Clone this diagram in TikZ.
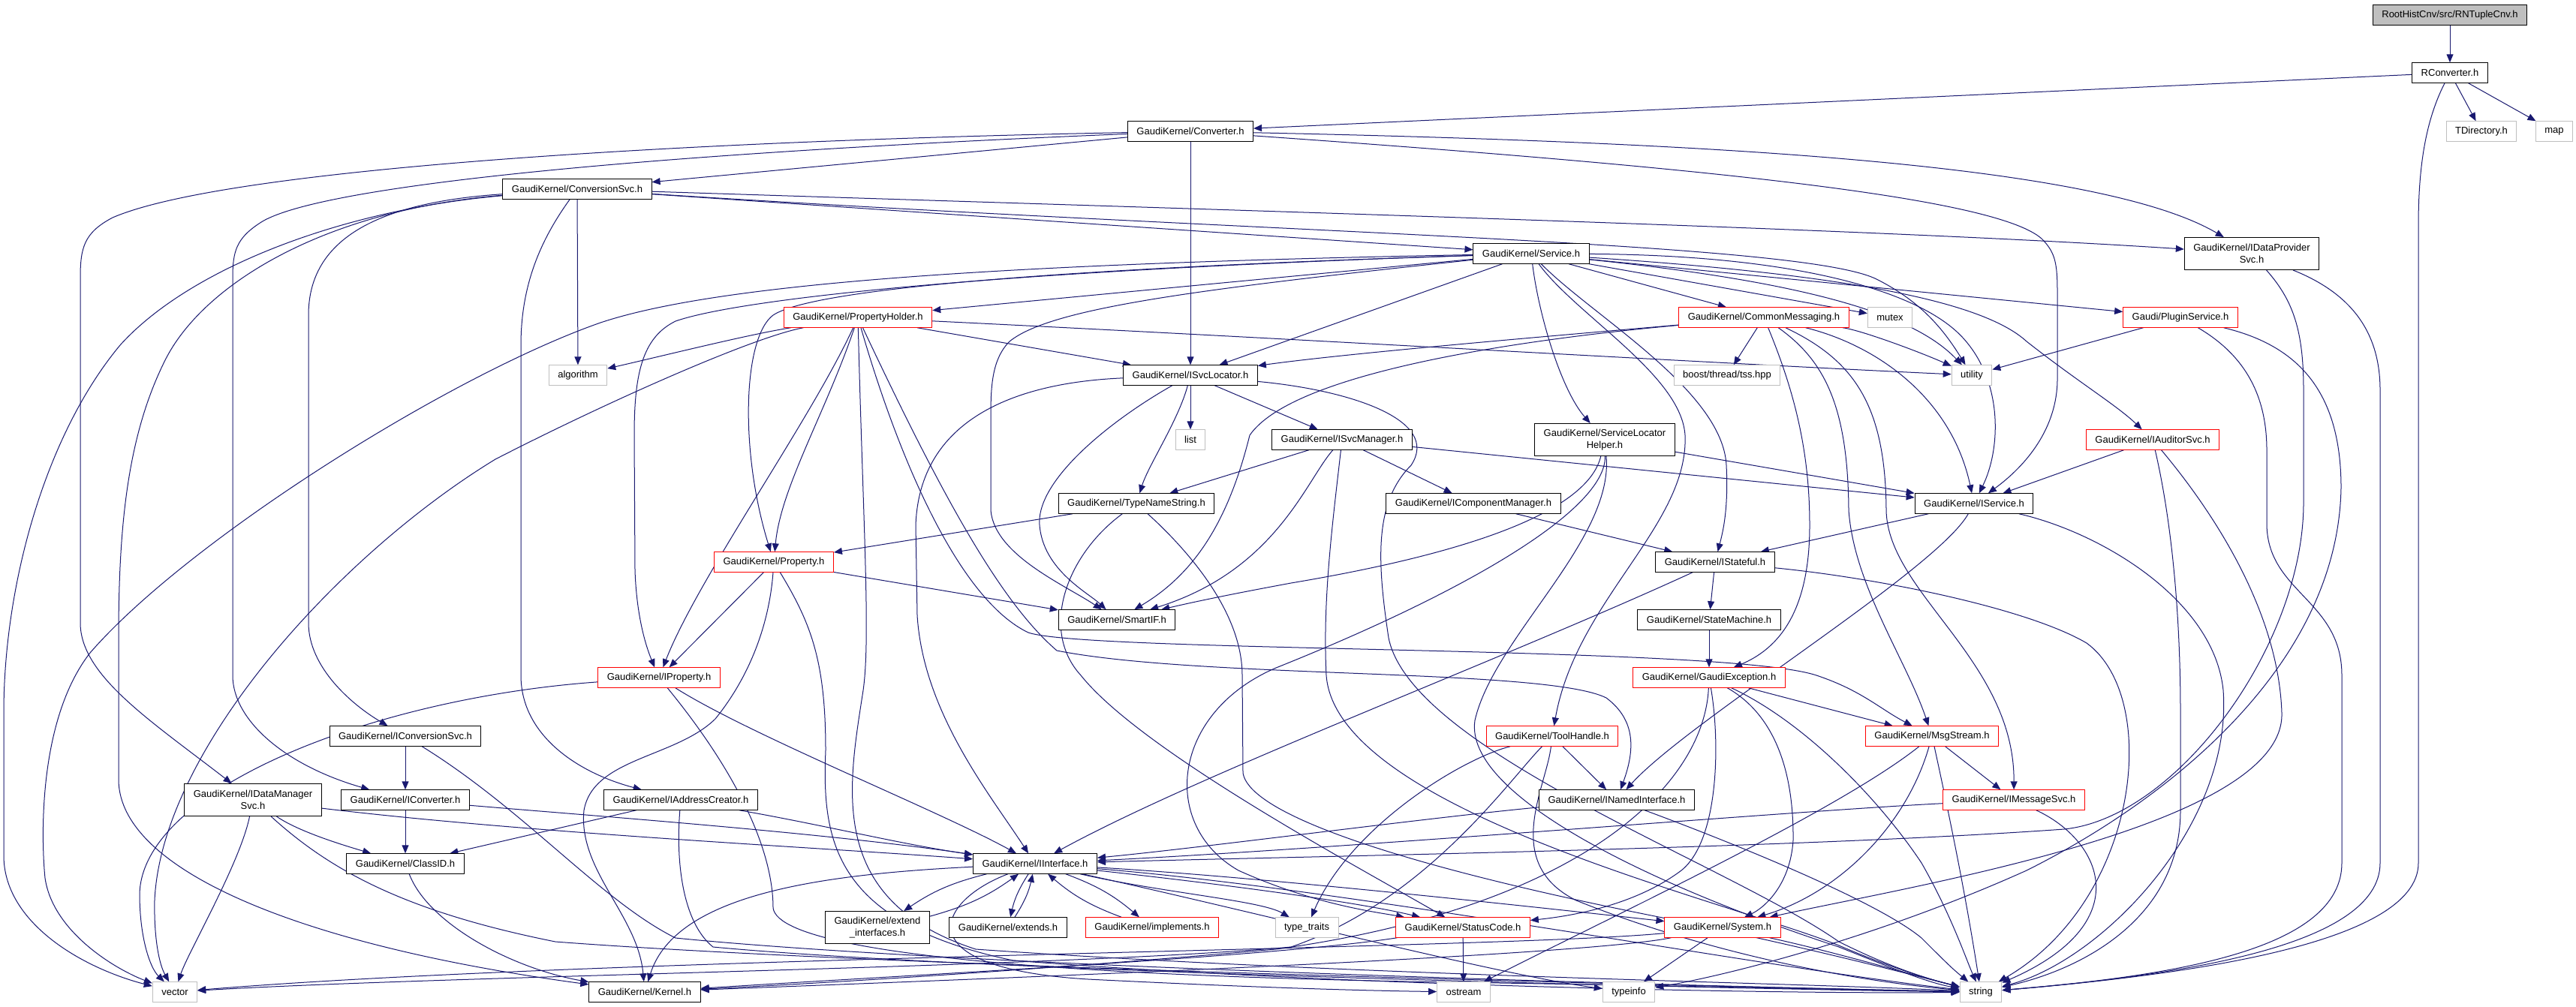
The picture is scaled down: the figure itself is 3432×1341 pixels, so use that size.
\documentclass[tikz,border=0pt]{standalone}
\usepackage{fontspec}
\setmainfont{Liberation Sans}
\usetikzlibrary{arrows.meta}
\definecolor{edgeblue}{RGB}{25,25,112}
\definecolor{sysgray}{RGB}{191,191,191}
\pgfdeclarelayer{bg}
\pgfsetlayers{bg,main}
\begin{document}
\begin{tikzpicture}[x=0.5pt,y=-0.5pt,
  hdr/.style={draw=black,line width=0.5pt,fill=white,inner xsep=6pt,inner ysep=0pt,
    minimum height=13.25pt,font=\fontsize{6.5pt}{8pt}\selectfont,align=center},
  trunc/.style={hdr,draw=red},
  sys/.style={hdr,draw=sysgray},
  twoline/.style={minimum height=21.5pt},
  inc/.style={draw=edgeblue,line width=0.5pt,-{Triangle[length=5.5pt,width=4.5pt]}}]
\useasboundingbox (0,0) rectangle (3432,1341);

\node[hdr,fill=sysgray] (root) at (3264,20) {RootHistCnv/src/RNTupleCnv.h};
\node[hdr] (rconv) at (3264,97) {RConverter.h};
\node[sys] (tdir) at (3306,175) {TDirectory.h};
\node[sys] (map) at (3403,175) {map};
\node[hdr] (conv) at (1586,175) {GaudiKernel/Converter.h};
\node[hdr] (convsvc) at (769,252) {GaudiKernel/ConversionSvc.h};
\node[hdr,twoline] (idps) at (3000,338) {GaudiKernel/IDataProvider\\Svc.h};
\node[hdr] (service) at (2040,338) {GaudiKernel/Service.h};
\node[trunc] (propholder) at (1143,423) {GaudiKernel/PropertyHolder.h};
\node[trunc] (commsg) at (2350,423) {GaudiKernel/CommonMessaging.h};
\node[sys] (mutex) at (2518,423) {mutex};
\node[trunc] (plugin) at (2905,423) {Gaudi/PluginService.h};
\node[sys] (algorithm) at (770,500) {algorithm};
\node[hdr] (isvcloc) at (1586,500) {GaudiKernel/ISvcLocator.h};
\node[sys] (tss) at (2301,500) {boost/thread/tss.hpp};
\node[sys] (utility) at (2627,500) {utility};
\node[sys] (list) at (1586,586) {list};
\node[hdr] (isvcmgr) at (1788,586) {GaudiKernel/ISvcManager.h};
\node[hdr,twoline] (slh) at (2138,586) {GaudiKernel/ServiceLocator\\Helper.h};
\node[trunc] (iauditor) at (2868,586) {GaudiKernel/IAuditorSvc.h};
\node[hdr] (typename) at (1514,671) {GaudiKernel/TypeNameString.h};
\node[hdr] (icompmgr) at (1963,671) {GaudiKernel/IComponentManager.h};
\node[hdr] (iservice) at (2630,671) {GaudiKernel/IService.h};
\node[trunc] (property) at (1031,749) {GaudiKernel/Property.h};
\node[hdr] (istateful) at (2285,749) {GaudiKernel/IStateful.h};
\node[hdr] (smartif) at (1488,826) {GaudiKernel/SmartIF.h};
\node[hdr] (statemachine) at (2277,826) {GaudiKernel/StateMachine.h};
\node[trunc] (iproperty) at (878,903) {GaudiKernel/IProperty.h};
\node[trunc] (gexc) at (2277,903) {GaudiKernel/GaudiException.h};
\node[hdr] (iconvsvc) at (540,981) {GaudiKernel/IConversionSvc.h};
\node[trunc] (toolhandle) at (2068,981) {GaudiKernel/ToolHandle.h};
\node[trunc] (msgstream) at (2574,981) {GaudiKernel/MsgStream.h};
\node[hdr,twoline] (idms) at (337,1066) {GaudiKernel/IDataManager\\Svc.h};
\node[hdr] (iconverter) at (540,1066) {GaudiKernel/IConverter.h};
\node[hdr] (iaddr) at (907,1066) {GaudiKernel/IAddressCreator.h};
\node[hdr] (inamed) at (2154,1066) {GaudiKernel/INamedInterface.h};
\node[trunc] (imsgsvc) at (2683,1066) {GaudiKernel/IMessageSvc.h};
\node[hdr] (classid) at (540,1151) {GaudiKernel/ClassID.h};
\node[hdr] (iinterface) at (1379,1151) {GaudiKernel/IInterface.h};
\node[hdr,twoline] (extint) at (1169,1236) {GaudiKernel/extend\\\_interfaces.h};
\node[hdr] (extends) at (1343,1236) {GaudiKernel/extends.h};
\node[trunc] (implements) at (1535,1236) {GaudiKernel/implements.h};
\node[sys] (typetraits) at (1741,1236) {type\_traits};
\node[trunc] (statuscode) at (1949,1236) {GaudiKernel/StatusCode.h};
\node[trunc] (system) at (2295,1236) {GaudiKernel/System.h};
\node[sys] (vector) at (233,1322) {vector};
\node[hdr] (kernel) at (859,1322) {GaudiKernel/Kernel.h};
\node[sys] (ostream) at (1950,1322) {ostream};
\node[sys] (typeinfo) at (2170,1322) {typeinfo};
\node[sys] (string) at (2639,1322) {string};

\begin{pgfonlayer}{bg}
\fill[white] (0,0) rectangle (3432,1341);
\draw[inc] (root) -- (rconv);
\draw[inc] (rconv) -- (conv);
\draw[inc] (rconv) -- (tdir);
\draw[inc] (rconv) -- (map);
\draw[inc] (rconv) .. controls (3232,160) and (3222,220) .. (3222,300) -- (3222,1150) .. controls (3222,1260) and (2900,1300) .. (string);

\draw[inc] (conv) -- (convsvc);
\draw[inc] (conv) .. controls (900,188) and (300,225) .. (150,290) .. controls (112,310) and (107,330) .. (107,370) -- (107,830) .. controls (107,900) and (200,960) .. (idms);
\draw[inc] (conv) .. controls (900,203) and (420,245) .. (345,298) .. controls (315,318) and (310,335) .. (310,370) -- (310,900) .. controls (310,960) and (380,1020) .. (iconverter);
\draw[inc] (conv) -- (isvcloc);
\draw[inc] (conv) .. controls (2300,190) and (2800,220) .. (idps);
\draw[inc] (conv) .. controls (2300,225) and (2660,265) .. (2720,318) .. controls (2738,336) and (2741,350) .. (2741,390) -- (2741,505) .. controls (2741,570) and (2700,620) .. (iservice);

\draw[inc] (convsvc) -- (service);
\draw[inc] (convsvc) .. controls (1700,282) and (2500,305) .. (idps);
\draw[inc] (convsvc) .. controls (1700,312) and (2400,322) .. (2500,372) .. controls (2560,402) and (2590,440) .. (utility);
\draw[inc] (convsvc) -- (algorithm);
\draw[inc] (convsvc) .. controls (500,270) and (411,320) .. (411,420) -- (411,830) .. controls (411,890) and (470,940) .. (iconvsvc);
\draw[inc] (convsvc) .. controls (720,320) and (694,380) .. (694,460) -- (694,900) .. controls (694,980) and (770,1030) .. (iaddr);
\draw[inc] (convsvc) .. controls (450,280) and (250,360) .. (160,460) .. controls (60,580) and (5,780) .. (5,950) -- (5,1140) .. controls (5,1230) and (110,1290) .. (vector);
\draw[inc] (convsvc) .. controls (430,280) and (270,380) .. (220,480) .. controls (170,580) and (158,700) .. (158,850) -- (158,1040) .. controls (160,1160) and (400,1260) .. (kernel);

\draw[inc] (service) -- (propholder);
\draw[inc] (service) -- (commsg);
\draw[inc] (service) -- (mutex);
\draw[inc] (service) -- (plugin);
\draw[inc] (service) -- (isvcloc);
\draw[inc] (service) .. controls (2450,365) and (2640,400) .. (2700,455) .. controls (2770,510) and (2820,540) .. (iauditor);
\draw[inc] (service) .. controls (2400,340) and (2560,390) .. (2615,450) .. controls (2670,510) and (2665,600) .. (iservice);
\draw[inc] (service) .. controls (2450,380) and (2560,430) .. (utility);
\draw[inc] (service) .. controls (1500,355) and (1090,380) .. (1030,420) .. controls (990,450) and (985,600) .. (property);
\draw[inc] (service) .. controls (1300,362) and (980,400) .. (900,428) .. controls (855,450) and (845,500) .. (845,580) -- (846,760) .. controls (848,820) and (860,860) .. (iproperty);
\draw[inc] (service) .. controls (1300,352) and (950,380) .. (800,430) .. controls (600,500) and (250,720) .. (120,870) .. controls (50,960) and (55,1120) .. (60,1170) .. controls (70,1240) and (150,1290) .. (vector);
\draw[inc] (service) .. controls (1600,385) and (1400,410) .. (1345,455) .. controls (1320,480) and (1320,520) .. (1320,560) -- (1320,680) .. controls (1325,740) and (1420,780) .. (smartif);
\draw[inc] (service) .. controls (2050,420) and (2080,520) .. (slh);
\draw[inc] (service) .. controls (2120,420) and (2295,520) .. (2300,620) .. controls (2303,680) and (2295,710) .. (istateful);
\draw[inc] (service) .. controls (2100,420) and (2240,500) .. (2245,580) .. controls (2250,700) and (2100,800) .. (toolhandle);

\draw[inc] (propholder) .. controls (1000,445) and (880,475) .. (algorithm);
\draw[inc] (propholder) .. controls (1000,450) and (800,540) .. (660,612) .. controls (450,740) and (215,1000) .. (206,1200) .. controls (205,1250) and (212,1285) .. (vector);
\draw[inc] (propholder) -- (isvcloc);
\draw[inc] (propholder) .. controls (1700,450) and (2300,485) .. (utility);
\draw[inc] (propholder) .. controls (1100,550) and (1040,650) .. (property);
\draw[inc] (propholder) .. controls (1080,560) and (930,770) .. (iproperty);
\draw[inc] (propholder) .. controls (1150,700) and (1160,850) .. (1150,920) .. controls (1130,1050) and (1100,1200) .. (1300,1265) .. controls (1800,1300) and (2400,1310) .. (string);
\draw[inc] (propholder) .. controls (1200,620) and (1280,800) .. (1370,843) .. controls (1450,870) and (2300,860) .. (2420,900) .. controls (2480,920) and (2505,945) .. (msgstream);
\draw[inc] (propholder) .. controls (1250,650) and (1330,800) .. (1408,867) .. controls (1600,905) and (2060,890) .. (2140,930) .. controls (2180,960) and (2178,1000) .. (inamed);

\draw[inc] (commsg) .. controls (2100,445) and (1800,470) .. (isvcloc);
\draw[inc] (commsg) .. controls (2000,455) and (1720,500) .. (1665,580) .. controls (1640,680) and (1600,760) .. (smartif);
\draw[inc] (commsg) -- (tss);
\draw[inc] (commsg) .. controls (2390,520) and (2411,600) .. (2411,700) .. controls (2411,800) and (2380,860) .. (gexc);
\draw[inc] (commsg) .. controls (2430,480) and (2462,540) .. (2463,680) .. controls (2470,780) and (2540,880) .. (msgstream);
\draw[inc] (commsg) .. controls (2470,480) and (2512,540) .. (2513,680) .. controls (2515,790) and (2684,880) .. (imsgsvc);
\draw[inc] (commsg) .. controls (2500,460) and (2600,530) .. (iservice);
\draw[inc] (commsg) .. controls (2480,440) and (2560,470) .. (utility);

\draw[inc] (plugin) -- (utility);
\draw[inc] (plugin) .. controls (2985,470) and (3020,520) .. (3020,600) -- (3020,700) .. controls (3022,790) and (3120,800) .. (3120,900) -- (3120,1150) .. controls (3120,1265) and (2900,1300) .. (string);
\draw[inc] (plugin) .. controls (3060,460) and (3119,520) .. (3119,650) .. controls (3115,880) and (2900,1060) .. (2700,1160) .. controls (2500,1250) and (2300,1300) .. (typeinfo);

\draw[inc] (idps) .. controls (3055,400) and (3069,440) .. (3069,520) -- (3069,670) .. controls (3069,860) and (2900,1090) .. (2750,1105) .. controls (2400,1130) and (1800,1140) .. (iinterface);
\draw[inc] (idps) .. controls (3130,390) and (3171,440) .. (3171,520) -- (3171,1150) .. controls (3171,1262) and (2900,1300) .. (string);

\draw[inc] (iauditor) -- (iservice);
\draw[inc] (iauditor) .. controls (2890,680) and (2905,800) .. (2905,950) -- (2905,1080) .. controls (2905,1220) and (2780,1290) .. (string);
\draw[inc] (iauditor) .. controls (2930,660) and (3035,800) .. (3040,950) .. controls (3045,1100) and (2550,1180) .. (system);

\draw[inc] (iservice) .. controls (2580,760) and (2250,960) .. (inamed);
\draw[inc] (iservice) .. controls (2800,710) and (2950,800) .. (2962,920) .. controls (2975,1100) and (2800,1280) .. (string);
\draw[inc] (iservice) -- (istateful);

\draw[inc] (isvcmgr) -- (typename);
\draw[inc] (isvcmgr) -- (icompmgr);
\draw[inc] (isvcmgr) -- (iservice);
\draw[inc] (isvcmgr) .. controls (1740,640) and (1700,760) .. (smartif);
\draw[inc] (isvcmgr) .. controls (1775,700) and (1762,800) .. (1767,900) .. controls (1780,1080) and (2300,1200) .. (2450,1260) .. controls (2520,1290) and (2570,1305) .. (string);
\draw[inc] (icompmgr) -- (istateful);

\draw[inc] (slh) -- (iservice);
\draw[inc] (slh) .. controls (2118,670) and (2000,730) .. (1720,777) .. controls (1650,790) and (1600,800) .. (smartif);
\draw[inc] (slh) .. controls (2140,680) and (1950,790) .. (1700,890) .. controls (1560,950) and (1545,1100) .. (1650,1160) .. controls (1750,1205) and (1830,1215) .. (statuscode);
\draw[inc] (slh) .. controls (2150,720) and (1990,850) .. (1965,960) .. controls (1950,1060) and (2200,1180) .. (2450,1262) .. controls (2520,1290) and (2570,1310) .. (string);

\draw[inc] (isvcloc) -- (list);
\draw[inc] (isvcloc) .. controls (1570,560) and (1530,620) .. (typename);
\draw[inc] (isvcloc) -- (isvcmgr);
\draw[inc] (isvcloc) .. controls (1480,560) and (1380,640) .. (1385,700) .. controls (1390,760) and (1450,790) .. (smartif);
\draw[inc] (isvcloc) .. controls (1350,510) and (1225,560) .. (1220,700) -- (1222,820) .. controls (1230,950) and (1320,1060) .. (iinterface);
\draw[inc] (isvcloc) .. controls (1800,520) and (1920,560) .. (1880,620) .. controls (1830,670) and (1835,750) .. (1850,850) .. controls (1880,1000) and (2300,1150) .. (2450,1255) .. controls (2520,1290) and (2570,1305) .. (string);

\draw[inc] (typename) -- (property);
\draw[inc] (typename) .. controls (1590,740) and (1655,820) .. (1655,900) -- (1656,1030) .. controls (1665,1090) and (1900,1160) .. (2200,1220) .. controls (2400,1260) and (2550,1300) .. (string);
\draw[inc] (typename) .. controls (1420,740) and (1385,840) .. (1440,900) .. controls (1520,1000) and (1800,1150) .. (statuscode);

\draw[inc] (property) -- (smartif);
\draw[inc] (property) -- (iproperty);
\draw[inc] (property) .. controls (1025,830) and (1000,900) .. (953,958) .. controls (900,1010) and (790,1010) .. (778,1080) .. controls (770,1160) and (850,1220) .. (kernel);
\draw[inc] (property) .. controls (1080,830) and (1100,880) .. (1100,1000) .. controls (1095,1120) and (1110,1230) .. (1350,1280) .. controls (1800,1315) and (2400,1325) .. (string);

\draw[inc] (iproperty) .. controls (1000,980) and (1250,1080) .. (iinterface);
\draw[inc] (iproperty) .. controls (500,930) and (190,1050) .. (186,1191) .. controls (186,1250) and (200,1290) .. (vector);
\draw[inc] (iproperty) .. controls (990,1040) and (1030,1140) .. (1030,1210) .. controls (1040,1285) and (1600,1305) .. (2000,1310) .. controls (2300,1315) and (2500,1320) .. (string);

\draw[inc] (iconvsvc) -- (iconverter);
\draw[inc] (iconvsvc) .. controls (700,1080) and (800,1200) .. (900,1250) .. controls (1300,1290) and (2300,1315) .. (string);
\draw[inc] (idms) .. controls (400,1110) and (470,1130) .. (classid);
\draw[inc] (idms) .. controls (320,1150) and (250,1270) .. (vector);
\draw[inc] (idms) .. controls (700,1110) and (1100,1130) .. (iinterface);
\draw[inc] (idms) .. controls (440,1160) and (540,1215) .. (740,1255) .. controls (1200,1290) and (2300,1315) .. (string);
\draw[inc] (iconverter) -- (classid);
\draw[inc] (iconverter) .. controls (800,1088) and (1100,1110) .. (iinterface);
\draw[inc] (iaddr) -- (classid);
\draw[inc] (iaddr) .. controls (1100,1100) and (1200,1125) .. (iinterface);
\draw[inc] (iaddr) .. controls (900,1150) and (910,1230) .. (950,1262) .. controls (1300,1295) and (2300,1318) .. (string);
\draw[inc] (classid) .. controls (570,1230) and (680,1290) .. (kernel);

\draw[inc] (iinterface) to[bend right=10] (extint);
\draw[inc] (extint) to[bend right=10] (iinterface);
\draw[inc] (iinterface) to[bend right=10] (extends);
\draw[inc] (extends) to[bend right=10] (iinterface);
\draw[inc] (iinterface) to[bend left=10] (implements);
\draw[inc] (implements) to[bend left=10] (iinterface);
\draw[inc] (iinterface) .. controls (1100,1165) and (900,1190) .. (kernel);
\draw[inc] (iinterface) .. controls (1550,1190) and (1680,1200) .. (typetraits);
\draw[inc] (iinterface) .. controls (1600,1175) and (1800,1200) .. (statuscode);
\draw[inc] (iinterface) .. controls (1700,1170) and (2100,1215) .. (system);
\draw[inc] (iinterface) .. controls (1250,1200) and (1200,1290) .. (1450,1305) .. controls (1650,1315) and (1800,1320) .. (ostream);
\draw[inc] (iinterface) .. controls (1650,1210) and (2000,1300) .. (typeinfo);
\draw[inc] (iinterface) .. controls (1800,1185) and (2350,1290) .. (string);

\draw[inc] (statuscode) -- (ostream);
\draw[inc] (statuscode) .. controls (1700,1275) and (1200,1300) .. (kernel);
\draw[inc] (system) -- (typeinfo);
\draw[inc] (system) .. controls (2450,1270) and (2550,1300) .. (string);
\draw[inc] (system) .. controls (2100,1275) and (1300,1305) .. (kernel);
\draw[inc] (system) .. controls (2000,1265) and (800,1275) .. (vector);

\draw[inc] (gexc) -- (msgstream);
\draw[inc] (gexc) .. controls (2292,990) and (2290,1120) .. (2240,1160) .. controls (2180,1205) and (2100,1220) .. (statuscode);
\draw[inc] (gexc) .. controls (2360,950) and (2390,1020) .. (2389,1120) .. controls (2385,1180) and (2350,1210) .. (system);
\draw[inc] (gexc) .. controls (2400,960) and (2500,1060) .. (2560,1150) .. controls (2600,1220) and (2620,1280) .. (string);
\draw[inc] (gexc) .. controls (2270,1050) and (2100,1210) .. (1700,1265) .. controls (1300,1300) and (1000,1315) .. (kernel);

\draw[inc] (toolhandle) -- (inamed);
\draw[inc] (toolhandle) .. controls (1950,1010) and (1800,1100) .. (typetraits);
\draw[inc] (toolhandle) .. controls (2010,1040) and (1900,1200) .. (1720,1262) .. controls (1400,1290) and (600,1300) .. (vector);
\draw[inc] (toolhandle) .. controls (2060,1050) and (2000,1150) .. (2100,1200) .. controls (2300,1280) and (2500,1310) .. (string);

\draw[inc] (msgstream) -- (imsgsvc);
\draw[inc] (msgstream) .. controls (2450,1080) and (2150,1220) .. (ostream);
\draw[inc] (msgstream) .. controls (2540,1100) and (2450,1190) .. (system);
\draw[inc] (msgstream) .. controls (2600,1100) and (2620,1200) .. (string);

\draw[inc] (inamed) .. controls (1900,1090) and (1600,1130) .. (iinterface);
\draw[inc] (inamed) .. controls (2300,1120) and (2500,1200) .. (2560,1250) .. controls (2590,1280) and (2600,1290) .. (string);
\draw[inc] (imsgsvc) .. controls (2400,1080) and (1800,1130) .. (iinterface);
\draw[inc] (imsgsvc) .. controls (2800,1120) and (2850,1230) .. (string);

\draw[inc] (istateful) -- (statemachine);
\draw[inc] (istateful) .. controls (2000,880) and (1600,1030) .. (iinterface);
\draw[inc] (istateful) .. controls (2500,770) and (2700,810) .. (2780,857) .. controls (2880,930) and (2850,1200) .. (string);
\draw[inc] (statemachine) -- (gexc);
\end{pgfonlayer}
\end{tikzpicture}
\end{document}
